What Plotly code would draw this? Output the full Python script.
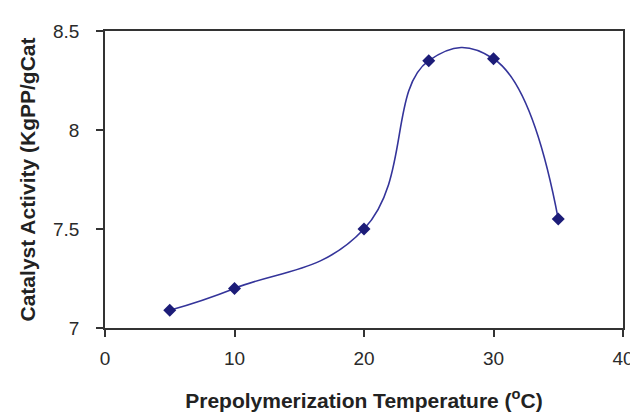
import plotly.graph_objects as go

temps = [5, 10, 20, 25, 30, 35]
activity = [7.09, 7.2, 7.5, 8.35, 8.36, 7.55]
x_ticks = [0, 10, 20, 30, 40]
y_ticks = [7, 7.5, 8, 8.5]
y_tick_labels = ["7", "7.5", "8", "8.5"]

fig = go.Figure()
fig.add_trace(go.Scatter(
    x=temps, y=activity, mode="lines+markers",
    line=dict(color="#34349a", width=1.6, shape="spline", smoothing=1.3),
    marker=dict(symbol="diamond", size=10, color="#1c1c78"),
    showlegend=False,
))

axis_common = dict(
    showline=True, linecolor="#333333", linewidth=1.6, mirror=True,
    ticks="outside", ticklen=7, tickcolor="#333333", tickwidth=1.6,
    showgrid=False, zeroline=False,
    tickfont=dict(family="Liberation Sans, Arial", size=19, color="#2a2a2a"),
)

fig.update_layout(
    width=638, height=413,
    margin=dict(l=97, r=12, t=23, b=87),
    paper_bgcolor="white", plot_bgcolor="white",
    xaxis=dict(range=[0, 40], tickvals=x_ticks, ticklabelstandoff=5, **axis_common,
               title=dict(text="<b>Prepolymerization Temperature (<sup>o</sup>C)</b>",
                          font=dict(family="Liberation Sans, Arial", size=21, color="#222222"),
                          standoff=26)),
    yaxis=dict(range=[7, 8.5], tickvals=y_ticks, ticktext=y_tick_labels, ticklabelstandoff=13,
               **axis_common,
               title=dict(text="<b>Catalyst Activity (KgPP/gCat</b>",
                          font=dict(family="Liberation Sans, Arial", size=21, color="#222222"),
                          standoff=12)),
)

fig.write_html("out.html")
